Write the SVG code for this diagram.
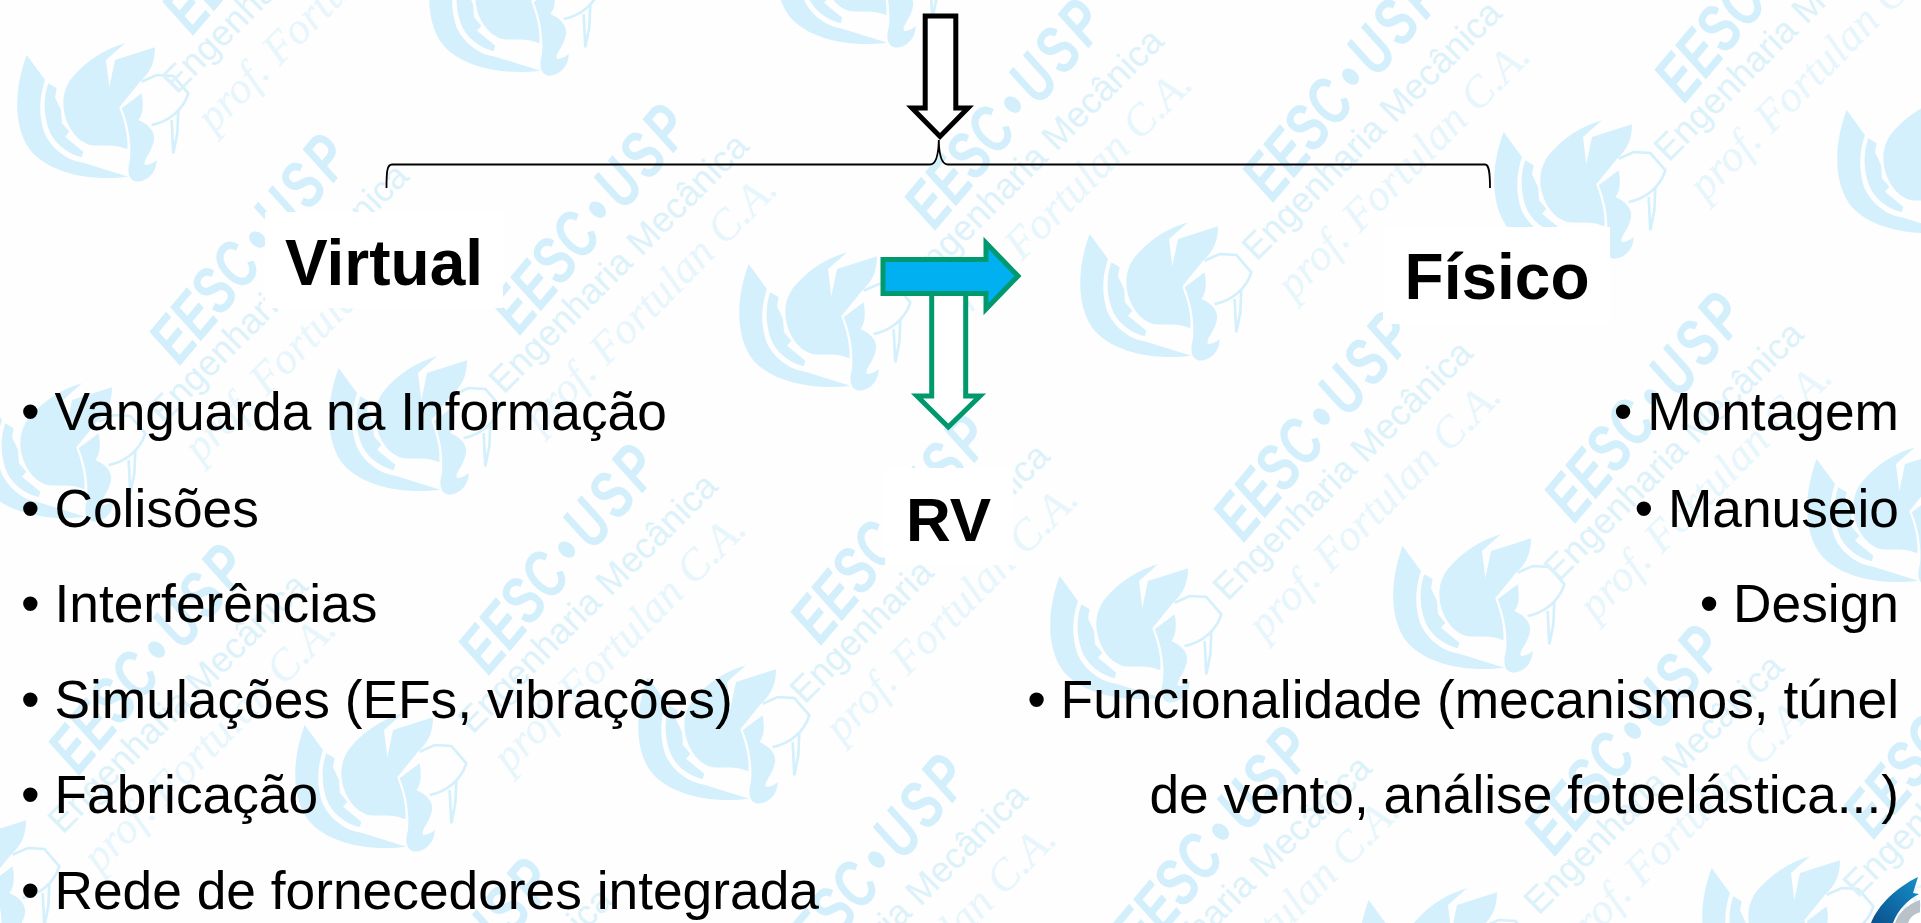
<svg xmlns="http://www.w3.org/2000/svg" width="1921" height="923" viewBox="0 0 1921 923">
<style>
text{font-family:"Liberation Sans",Arial,sans-serif}
.li{font-size:53.3px;fill:#000}
.r{text-anchor:end}
.h{font-size:64px;font-weight:bold;fill:#000;text-anchor:middle}
.w1{font-size:66px;font-weight:bold;font-style:italic;fill:#d2effb}
.w2{font-size:36px;fill:#dcf2fb;text-anchor:middle}
.w3{font-family:"Liberation Serif",serif;font-size:44px;font-style:italic;fill:#e6f6fc;text-anchor:middle}
.lg{fill:#d4f0fc}
.ln{fill:none;stroke:#d4f0fc;stroke-width:8}
.box{fill:#fff}
.g{stroke:#00996e;stroke-width:5;stroke-miterlimit:10}
</style>
<defs>
<g id="logo" transform="translate(-16 -43) scale(.3333)">
<path class="lg" d="M80 165L135 240C115 300 118 350 132 395C150 440 195 480 250 488L385 530C300 542 180 530 110 470C50 420 30 300 80 165Z"/>
<path class="lg" d="M145 250L170 265L165 292L183 330L186 370L208 395L195 410L250 455L245 472C200 460 160 430 145 385C130 340 130 290 145 250Z"/>
<path class="lg" d="M215 235C260 180 320 145 375 130L318 180L328 262L345 180L465 142C465 180 455 215 420 245L358 322C375 370 385 410 382 448C340 430 300 440 270 435C220 420 190 360 190 310C190 280 200 255 215 235Z"/>
<path class="lg" d="M425 280C432 320 428 345 415 360C450 375 470 400 460 430C450 465 428 480 435 495C445 495 460 490 470 480C470 520 440 545 410 545C385 540 380 515 390 480C395 430 385 370 365 325Z"/>
<path class="ln" d="M425 245L470 225L520 228L565 280C550 330 505 365 455 375M515 360L520 460L532 400L535 330"/>
</g>
<g id="mark">
<text class="w1" transform="rotate(-50) scale(.73 1)" y="22"><tspan x="-201">EESC </tspan><tspan x="-11.5">• </tspan><tspan x="22" letter-spacing="6">USP</tspan></text>
<text class="w2" transform="translate(21.5 53) rotate(-45)" y="12" textLength="349" lengthAdjust="spacingAndGlyphs">Engenharia Mecânica</text>
<text class="w3" transform="translate(54.5 94) rotate(-45.5)" y="12" textLength="341" lengthAdjust="spacingAndGlyphs">prof. Fortulan C.A.</text>
</g>
<linearGradient id="bl" x1="0" y1="1" x2="1" y2="0"><stop offset="0" stop-color="#0b4f8c"/><stop offset="1" stop-color="#1590c8"/></linearGradient>
</defs>
<rect width="1921" height="923" fill="#fefefe"/>
<g id="watermark">
<use href="#logo" transform="translate(16 43)"/>
<use href="#logo" transform="translate(428 -63)"/>
<use href="#logo" transform="translate(775 -91)"/>
<use href="#logo" transform="translate(738 252)"/>
<use href="#logo" transform="translate(1079 222)"/>
<use href="#logo" transform="translate(1493 120)"/>
<use href="#logo" transform="translate(1836 98)"/>
<use href="#logo" transform="translate(328 356)"/>
<use href="#logo" transform="translate(-27 383)"/>
<use href="#logo" transform="translate(294 713)"/>
<use href="#logo" transform="translate(637 665)"/>
<use href="#logo" transform="translate(1049 564)"/>
<use href="#logo" transform="translate(1392 534)"/>
<use href="#logo" transform="translate(1806 447)"/>
<use href="#logo" transform="translate(1701 856)"/>
<use href="#logo" transform="translate(1358 888)"/>
<use href="#logo" transform="translate(-113 816)"/>
<use href="#mark" transform="translate(597 210)"/>
<use href="#mark" transform="translate(1012 105)"/>
<use href="#mark" transform="translate(1350 77)"/>
<use href="#mark" transform="translate(1762 -22)"/>
<use href="#mark" transform="translate(1652 398)"/>
<use href="#mark" transform="translate(1321 417)"/>
<use href="#mark" transform="translate(1632 731)"/>
<use href="#mark" transform="translate(1220 832)"/>
<use href="#mark" transform="translate(1951 714)"/>
<use href="#mark" transform="translate(566 550)"/>
<use href="#mark" transform="translate(156 650)"/>
<use href="#mark" transform="translate(257 240)"/>
<use href="#mark" transform="translate(898 520)"/>
<use href="#mark" transform="translate(876 860)"/>
<use href="#mark" transform="translate(461 964)"/>
<use href="#mark" transform="translate(270 -90)"/>
</g>
<g id="corner-logo">
<path fill="url(#bl)" d="M1918 877C1897 887 1878 905 1871 923H1893C1898 910 1907 900 1919 894L1913 893Z"/>
<path fill="#b9c2c9" d="M1895 923C1899 912 1908 904 1920 900V923Z"/>
<path fill="#fff" d="M1908 923C1910 917 1914 914 1921 912V923Z"/>
</g>
<g id="node-virtual">
<rect class="box" x="265" y="212" width="238" height="96"/>
<text class="h" x="384" y="285">Virtual</text>
</g>
<g id="node-rv">
<rect class="box" x="885" y="468" width="128" height="97"/>
<text class="h" style="font-size:62px" x="948.5" y="541">RV</text>
</g>
<g id="node-fisico">
<rect class="box" x="1383" y="227" width="227" height="97"/>
<text class="h" x="1497" y="299">Físico</text>
</g>
<g id="list-virtual">
<text class="li" x="21" y="430">• Vanguarda na Informação</text>
<text class="li" x="21" y="527">• Colisões</text>
<text class="li" x="21" y="622">• Interferências</text>
<text class="li" x="21" y="718">• Simulações (EFs, vibrações)</text>
<text class="li" x="21" y="813">• Fabricação</text>
<text class="li" x="21" y="909">• Rede de fornecedores integrada</text>
</g>
<g id="list-fisico">
<text class="li r" x="1899" y="430">• Montagem</text>
<text class="li r" x="1899" y="527">• Manuseio</text>
<text class="li r" x="1899" y="622">• Design</text>
<text class="li r" x="1899" y="718">• Funcionalidade (mecanismos, túnel</text>
<text class="li r" x="1899" y="813">de vento, análise fotoelástica...)</text>
</g>
<g id="connectors">
<path fill="#fff" stroke="#000" stroke-width="5" stroke-miterlimit="10" d="M925.2 16H955.8V108H968L940 136.5L912 108H925.2Z"/>
<path fill="none" stroke="#000" stroke-width="1.8" d="M386.5 188C386.5 172 387 164.5 392 164.5H930C936 164.5 938.5 155 938.8 140C939 155 941.5 164.5 948 164.5H1485C1489 164.5 1490 172 1490 188"/>
<path class="g" fill="#fff" d="M931.7 290V396H917L948.3 427L980 396H965.7V290Z"/>
<path class="g" fill="#00b0f0" d="M883 259.5H986V243L1018 276L986 309V293.5H883Z"/>
</g>
</svg>
